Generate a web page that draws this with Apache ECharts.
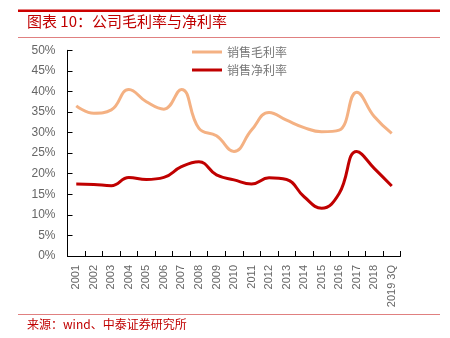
<!DOCTYPE html>
<html><head><meta charset="utf-8">
<script src="https://cdn.jsdelivr.net/npm/echarts@6/dist/echarts.min.js"></script>
<style>html,body{margin:0;padding:0;background:#fff}#c{width:450px;height:338px}</style>
</head><body><div id="c"></div>
<script>
const categories = ['2001','2002','2003','2004','2005','2006','2007','2008','2009','2010','2011','2012','2013','2014','2015','2016','2017','2018','2019 3Q'];
const grossMargin = [36.5,34.7,35.5,40.5,37.5,35.7,40.5,31.0,29.2,25.4,30.6,34.9,33.0,31.2,30.2,30.6,39.8,33.9,29.8];
const netMargin = [17.5,17.4,17.1,19.1,18.6,19.1,21.7,22.9,19.7,18.5,17.5,19.0,18.6,14.4,11.6,15.2,25.4,21.3,17.0];
const yTicks = [0,5,10,15,20,25,30,35,40,45,50];
const titleText = '图表 10：公司毛利率与净利率';
const sourceText = '来源：wind、中泰证券研究所';
const seriesNames = ['销售毛利率','销售净利率'];

const chart = echarts.init(document.getElementById('c'));
const font = '"Noto Sans CJK SC", "DejaVu Sans", sans-serif';
chart.setOption({
  animation: false,
  textStyle: {fontFamily: font},
  grid: {left: 67.5, right: 49.5, top: 50.3, bottom: 82, containLabel: false},
  legend: {
    orient: 'vertical', left: 187, top: 41, itemWidth: 30, itemHeight: 3, itemGap: 6,
    icon: 'rect',
    textStyle: {color: '#777', fontSize: 12, fontFamily: font},
    data: seriesNames
  },
  xAxis: {
    type: 'category', data: categories, boundaryGap: true,
    axisLine: {lineStyle: {color: '#000', width: 1}},
    axisTick: {show: true, alignWithLabel: false, length: 5, inside: true, lineStyle: {color: '#000'}},
    axisLabel: {rotate: 90, color: '#666', fontSize: 11, margin: 9, interval: 0, fontFamily: '"Liberation Sans", sans-serif'}
  },
  yAxis: {
    type: 'value', min: 0, max: 50, interval: 5,
    axisLine: {show: true, lineStyle: {color: '#000'}},
    axisTick: {show: true, inside: true, length: 5, lineStyle: {color: '#000'}},
    splitLine: {show: false},
    axisLabel: {formatter: v => yTicks.includes(v) ? v + '%' : '', color: '#666', fontSize: 12, margin: 12, fontFamily: '"Liberation Sans", sans-serif'}
  },
  series: [
    {name: seriesNames[0], type: 'line', data: grossMargin, smooth: 0.45, symbol: 'none',
     lineStyle: {color: '#F4B183', width: 3}, itemStyle: {color: '#F4B183'}},
    {name: seriesNames[1], type: 'line', data: netMargin, smooth: 0.45, symbol: 'none',
     lineStyle: {color: '#C00000', width: 3}, itemStyle: {color: '#C00000'}}
  ],
  graphic: [
    {type: 'rect', shape: {x: 18, y: 9.5, width: 422, height: 2.5}, style: {fill: '#CC0000'}},
    {type: 'rect', shape: {x: 18, y: 37, width: 422, height: 1}, style: {fill: '#E08080'}},
    {type: 'text', left: 27, top: 14, style: {text: titleText, fill: '#C00000', fontSize: 15, fontFamily: font}},
    {type: 'rect', shape: {x: 18, y: 314, width: 422, height: 1}, style: {fill: '#E08080'}},
    {type: 'text', left: 27, top: 318, style: {text: sourceText, fill: '#C00000', fontSize: 12, fontFamily: font}}
  ]
});
</script></body></html>
